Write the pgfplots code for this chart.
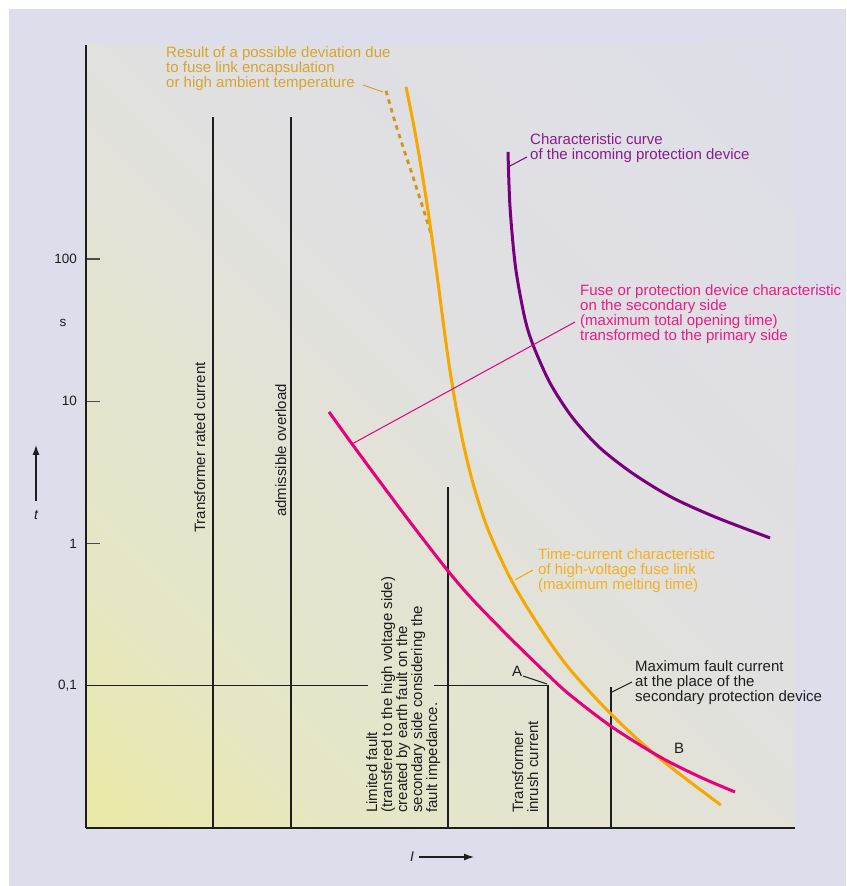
\documentclass[border=0pt]{standalone}
\usepackage{fontspec}
\setmainfont{Liberation Sans}
\usepackage{pgfplots}
\pgfplotsset{compat=1.18}
\usetikzlibrary{arrows.meta}

\definecolor{bgl}{RGB}{221,221,236}
\definecolor{yel}{RGB}{236,236,130}
\definecolor{midg}{RGB}{230,230,198}
\definecolor{greyl}{RGB}{224,224,225}
\definecolor{fuseor}{RGB}{245,168,0}
\definecolor{fusetxt}{RGB}{245,175,30}
\definecolor{goldtxt}{RGB}{212,165,48}
\definecolor{golddash}{RGB}{208,150,20}
\definecolor{purp}{RGB}{120,0,125}
\definecolor{purptxt}{RGB}{135,30,140}
\definecolor{pinkc}{RGB}{230,0,122}
\definecolor{pinktxt}{RGB}{232,30,130}
\definecolor{linek}{RGB}{30,30,30}

\pgfdeclarehorizontalshading{plotfade}{100bp}{color(0bp)=(yel); color(28bp)=(midg); color(55bp)=(greyl); color(100bp)=(bgl)}

\begin{document}
\begin{tikzpicture}
% background and the yellow fade inside the plot area
\fill[white] (0pt,0pt) rectangle (846pt,886pt);
\fill[bgl] (9pt,0pt) rectangle (846pt,877pt);
\shade[shading=plotfade, shading angle=45] (86pt,58pt) rectangle (795pt,841pt);

\begin{axis}[
    at={(86pt,58pt)}, anchor=south west,
    width=709pt, height=783pt, scale only axis,
    xmin=0, xmax=709,
    ymode=log, ymin=0.01, ymax=3200,
    axis lines*=left,
    axis line style={line width=1.8pt, color=linek},
    xtick=\empty,
    ytick={0.1,1,10,100},
    yticklabels={{0,1},1,10,100},
    yminorticks=false,
    tick align=inside,
    major tick length=14pt,
    tick style={line width=1.2pt, color=linek!80},
    yticklabel style={font=\fontsize{13.5}{14}\selectfont, text=linek, inner sep=0pt, xshift=-9pt},
    clip=false,
]
% black reference lines
\addplot[linek, line width=1.3pt] coordinates {(127,0.01) (127,1000)};
\addplot[linek, line width=1.3pt] coordinates {(205,0.01) (205,1000)};
\addplot[linek, line width=1.3pt] coordinates {(362,0.01) (362,2.5)};
\addplot[linek, line width=1.3pt] coordinates {(0,0.1) (282,0.1)};
\addplot[linek, line width=1.3pt] coordinates {(348,0.1) (462,0.1) (462,0.01)};
\addplot[linek, line width=1.3pt] coordinates {(525,0.01) (525,0.098)};

% possible deviation (dashed)
\addplot[golddash, line width=2.8pt, dash pattern=on 4.5pt off 4.5pt, smooth] coordinates {
(300,1524) (309,922) (318,586) (327,378) (336,240) (346,143)};

% time-current characteristic of HV fuse link
\addplot[fuseor, line width=3pt, smooth] coordinates {
(320,1626) (328,850.6) (335,445.0) (341.4,232.9) (347.2,121.8) (352.6,63.74)
(357.8,33.36) (363.4,17.46) (370,9.134) (378,4.778) (388,2.500) (402.2,1.246)
(425.2,0.5546) (452.2,0.2677) (482,0.1356) (523.9,0.06438) (571.9,0.03157)
(634.8,0.01451)};

% incoming protection device
\addplot[purp, line width=3pt, smooth] coordinates {
(422,567.5) (424,232.8) (429.5,88.1) (438.5,39.26) (447,24.95) (464,13.46)
(486,7.762) (513,4.775) (546,3.137) (585,2.127) (629,1.538) (684,1.095)};

% secondary side device transformed to primary
\addplot[pinkc, line width=3pt, smooth] coordinates {
(243,8.425) (266,5.017) (297,2.542) (327,1.330) (362,0.6417) (387,0.4012)
(424,0.2169) (461,0.1211) (484,0.0862) (526,0.05133) (574,0.0316) (614,0.02284)
(649,0.01792)};
\end{axis}

\begin{scope}[shift={(0,886pt)}, x=1pt, y=-1pt]
\tikzset{lbl/.style={anchor=north west, inner sep=0pt, align=left, font=\fontsize{15}{15}\selectfont}}
\tikzset{rot/.style={rotate=90, anchor=base west, inner sep=0pt, font=\fontsize{15}{15}\selectfont, text=linek}}

\draw[goldtxt, line width=1pt] (363,85) -- (383,92);
\draw[purp, line width=1pt] (508,167) -- (527,157);
\draw[pinkc, line width=1pt] (352,444) -- (575,322);
\draw[fuseor, line width=1pt] (515,580) -- (533,570);
\draw[linek, line width=1pt] (612,692) -- (632,682);
\draw[linek, line width=1pt] (523,676) -- (547,684);

\node[lbl, text=goldtxt] at (166,46) {Result of a possible deviation due\\to fuse link encapsulation\\or high ambient temperature};
\node[lbl, text=purptxt] at (530,133) {Characteristic curve\\of the incoming protection device};
\node[lbl, text=pinktxt] at (580,284) {Fuse or protection device characteristic\\on the secondary side\\(maximum total opening time)\\transformed to the primary side};
\node[lbl, text=fusetxt] at (538,548) {Time-current characteristic\\of high-voltage fuse link\\(maximum melting time)};
\node[lbl, text=linek] at (635,660) {Maximum fault current\\at the place of the\\secondary protection device};

\node[font=\fontsize{15}{15}\selectfont, text=linek] at (517,671) {A};
\node[font=\fontsize{15}{15}\selectfont, text=linek] at (679,748) {B};

\node[rot] at (205,533) {Transformer rated current};
\node[rot] at (286,517) {admissible overload};
\node[rot] at (377,813) {Limited fault};
\node[rot] at (392,813) {(transfered to the high voltage side)};
\node[rot] at (407,813) {created by earth fault on the};
\node[rot] at (422,813) {secondary side considering the};
\node[rot] at (437,813) {fault impedance.};
\node[rot] at (523,813) {Transformer};
\node[rot] at (538,813) {inrush current};

\node[font=\fontsize{13.5}{14}\selectfont, text=linek] at (63,323) {s};
\node[font=\fontsize{14}{14}\selectfont\itshape, text=linek] at (36,515) {t};
\draw[linek, line width=1.2pt, -{Latex[length=10pt,width=7pt]}] (36,501) -- (36,445);
\node[font=\fontsize{14}{14}\selectfont\itshape, text=linek] at (412,857) {I};
\draw[linek, line width=1.2pt, -{Latex[length=10pt,width=7pt]}] (419,857) -- (474,857);
\end{scope}
\end{tikzpicture}
\end{document}
